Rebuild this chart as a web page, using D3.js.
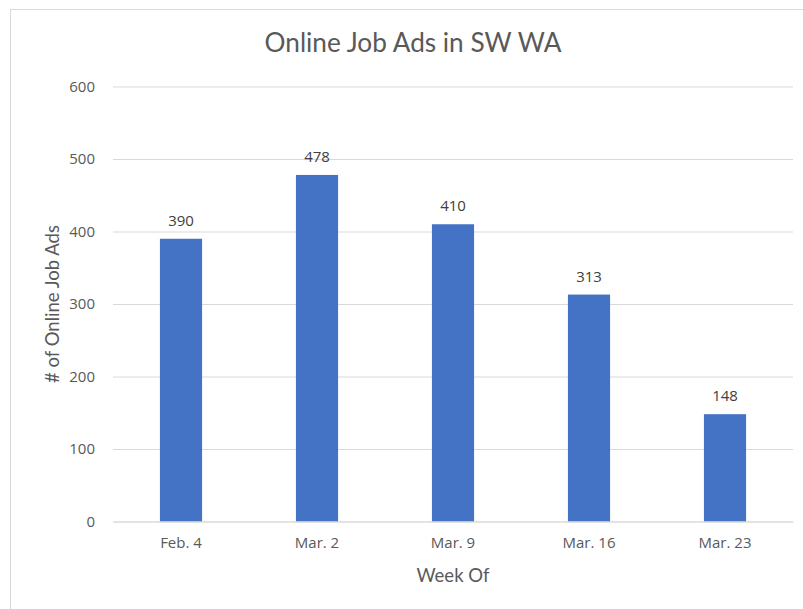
<!DOCTYPE html>
<html>
<head>
<meta charset="utf-8">
<script src="https://cdn.jsdelivr.net/npm/d3@7"></script>
<style>
  body { margin: 0; background: #fff; }
  .tick text { fill: #595959; font-family: "Open Sans", sans-serif; font-size: 15px; }
  .title { fill: #595959; font-family: Lato, sans-serif; font-size: 26.2px; }
  .axis-title { fill: #595959; font-family: Lato, sans-serif; font-size: 18.5px; }
  .bar-labels { fill: #404040; font-family: "Open Sans", sans-serif; font-size: 15px; }
</style>
</head>
<body>
<div id="chart"></div>
<script>
var weeks = ["Feb. 4", "Mar. 2", "Mar. 9", "Mar. 16", "Mar. 23"];
var adCounts = [390, 478, 410, 313, 148];
var yTicks = [0, 100, 200, 300, 400, 500, 600];

var margin = {top: 86.5, right: 10, bottom: 87.5, left: 113};
var width = 803 - margin.left - margin.right;
var height = 609 - margin.top - margin.bottom;

var data = weeks.map(function(w, i){ return {week: w, ads: adCounts[i]}; });

var svg = d3.select("#chart").append("svg")
            .attr("width", 803)
            .attr("height", 609);

// chart area border
svg.append("rect")
   .attr("x", 10.5).attr("y", 9.5)
   .attr("width", 800).attr("height", 620)
   .attr("fill", "none")
   .attr("stroke", "#d9d9d9");

var y = d3.scaleLinear().range([height, 0]).domain([0, 600]);
var x = d3.scaleBand().range([0, width]).domain(weeks)
          .paddingInner(0.69).paddingOuter(0.345);

var g = svg.append("g")
           .attr("transform", "translate(" + margin.left + "," + margin.top + ")");

// gridlines + y labels
g.append("g")
 .attr("class", "axis")
 .call(d3.axisLeft(y).tickValues(yTicks).tickSize(-width).tickPadding(18))
 .call(function(a){
    a.select(".domain").remove();
    a.selectAll(".tick line").attr("stroke", "#d9d9d9");
 });

g.selectAll("rect.bar").data(data).enter().append("rect")
 .attr("class", "bar")
 .attr("x", (d) => x(d.week))
 .attr("y", (d) => y(d.ads))
 .attr("width", x.bandwidth())
 .attr("height", (d) => height - y(d.ads))
 .attr("fill", "#4472c4");

g.append("g")
 .attr("class", "axis")
 .attr("transform", "translate(0," + height + ")")
 .call(d3.axisBottom(x).tickSize(0).tickPadding(16))
 .call(function(a){
    a.select(".domain").attr("stroke", "#d9d9d9");
 });

g.append("g").selectAll("text")
 .data(data).enter().append("text")
 .attr("class", "bar-labels")
 .attr("text-anchor", "middle")
 .attr("x", (d) => x(d.week) + x.bandwidth() / 2)
 .attr("y", (d) => y(d.ads) - 13)
 .text((d) => d.ads);

svg.append("text")
   .attr("class", "title")
   .attr("x", 413)
   .attr("y", 52)
   .attr("text-anchor", "middle")
   .text("Online Job Ads in SW WA");

svg.append("text")
   .attr("class", "axis-title")
   .attr("x", margin.left + width / 2)
   .attr("y", 582)
   .attr("text-anchor", "middle")
   .text("Week Of");

svg.append("text")
   .attr("class", "axis-title")
   .attr("transform", "translate(59," + (margin.top + height / 2) + ") rotate(-90)")
   .attr("text-anchor", "middle")
   .text("# of Online Job Ads");
</script>
</body>
</html>
